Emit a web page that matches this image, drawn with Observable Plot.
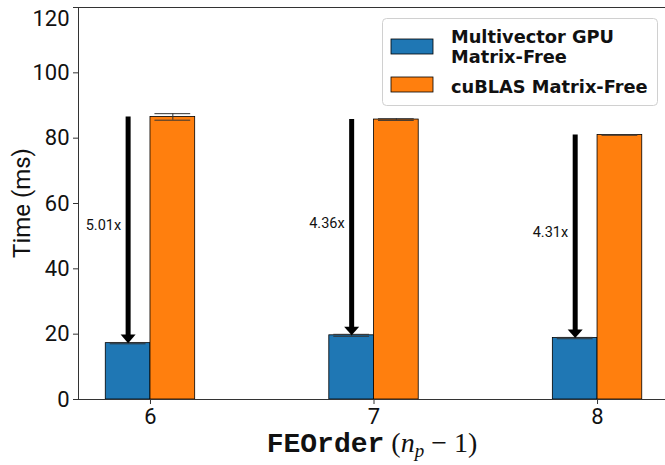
<!DOCTYPE html>
<html>
<head>
<meta charset="utf-8">
<script src="https://cdn.jsdelivr.net/npm/d3@7"></script>
<script src="https://cdn.jsdelivr.net/npm/@observablehq/plot@0.6"></script>
<style>
  html, body { margin: 0; padding: 0; background: #fff; }
  #chart svg { display: block; }
</style>
</head>
<body>
<div id="chart"></div>
<script>
// ---- data ----
const categories = [6, 7, 8];
const seriesNames = ["Multivector GPU", "cuBLAS Matrix-Free"];
const multivector = [17.25, 19.65, 18.8];
const multivectorErr = [0.2, 0.3, 0.2];
const cublas = [86.5, 85.7, 81.0];
const cublasErr = [1.0, 0.25, 0.1];
const speedupLabels = ["5.01x", "4.36x", "4.31x"];
const yTicks = [0, 20, 40, 60, 80, 100, 120];
const xTicks = [6, 7, 8];
const colors = ["#1f77b4", "#ff7f0e"];

// ---- derived tables ----
const barW = 0.2;
const bars = categories.flatMap((c, i) => [
  {c, s: 0, x1: c - barW, x2: c, xc: c - barW / 2, y: multivector[i], err: multivectorErr[i]},
  {c, s: 1, x1: c, x2: c + barW, xc: c + barW / 2, y: cublas[i], err: cublasErr[i]}
]);
const arrows = categories.map((c, i) => ({
  x: c - barW / 2, top: cublas[i], bottom: multivector[i],
  mid: (cublas[i] + multivector[i]) / 2, label: speedupLabels[i], tx: c - 0.29
}));

// custom downward triangle head (tip at the anchor point)
const downHead = {
  draw(ctx, size) {
    const r = Math.sqrt(size / Math.PI);
    const h = r * 1.15;
    ctx.moveTo(0, 0);
    ctx.lineTo(-r, -h);
    ctx.lineTo(r, -h);
    ctx.closePath();
  }
};

const xMin = 5.678, xMax = 8.304;
const font = "Roboto, 'DejaVu Sans', sans-serif";

const plot = Plot.plot({
  width: 665,
  height: 465,
  marginLeft: 78,
  marginRight: 0,
  marginTop: 7,
  marginBottom: 66,
  style: {fontFamily: font, background: "#fff"},
  x: {type: "linear", domain: [xMin, xMax], ticks: xTicks, tickFormat: d => String(d), label: null},
  y: {domain: [0, 120], ticks: yTicks, label: null},
  marks: [
    Plot.rectY(bars.filter(d => d.s === 0), {x1: "x1", x2: "x2", y: "y", fill: colors[0], stroke: "#000", strokeWidth: 0.8}),
    Plot.rectY(bars.filter(d => d.s === 1), {x1: "x1", x2: "x2", y: "y", fill: colors[1], stroke: "#000", strokeWidth: 0.8}),
    // error bars
    Plot.ruleX(bars, {x: "xc", y1: d => d.y - d.err, y2: d => d.y + d.err, stroke: "#333", strokeWidth: 1}),
    Plot.ruleY(bars, {y: d => d.y - d.err, x1: d => d.xc - 0.08, x2: d => d.xc + 0.08, stroke: "#333", strokeWidth: 1}),
    Plot.ruleY(bars, {y: d => d.y + d.err, x1: d => d.xc - 0.08, x2: d => d.xc + 0.08, stroke: "#333", strokeWidth: 1}),
    // speedup arrows
    Plot.ruleX(arrows, {x: "x", y1: "top", y2: d => d.bottom + 2, stroke: "#000", strokeWidth: 5}),
    Plot.dot(arrows, {x: "x", y: "bottom", symbol: downHead, r: 7.5, fill: "#000", stroke: null}),
    Plot.text(arrows, {x: "tx", y: "mid", text: "label", textAnchor: "start", dy: -4.5, fontSize: 14.5, fill: "#111"}),
    // spines
    Plot.ruleY([0, 120], {stroke: "#333", strokeWidth: 1}),
    Plot.ruleX([xMin], {stroke: "#333", strokeWidth: 1}),
    // axes
    Plot.axisY({ticks: yTicks, tickSize: 5, tickPadding: 4, fontSize: 22, stroke: "#333", label: null}),
    Plot.axisX({ticks: xTicks, tickSize: 5, tickPadding: 4, fontSize: 22, stroke: "#333", label: null, tickFormat: d => String(d)})
  ]
});

const svg = d3.select(plot);
svg.selectAll("g[aria-label='y-axis tick label'] text, g[aria-label='x-axis tick label'] text").attr("fill", "#111");
// keep the topmost y tick label inside the picture
svg.selectAll("g[aria-label='y-axis tick label'] text").filter(function() { return this.textContent === "120"; })
  .attr("dy", "0.5em");

// y-axis title
svg.append("text")
  .attr("transform", "translate(30,203) rotate(-90)")
  .attr("text-anchor", "middle")
  .attr("font-family", font)
  .attr("font-size", 24)
  .attr("fill", "#111")
  .text("Time (ms)");

// x-axis title: FEOrder (n_p − 1)
const serif = "'Liberation Serif', 'DejaVu Serif', serif";
const xt = svg.append("text")
  .attr("x", 372).attr("y", 452)
  .attr("text-anchor", "middle")
  .attr("fill", "#111");
xt.append("tspan").attr("font-family", "'Liberation Mono', 'DejaVu Sans Mono', monospace")
  .attr("font-weight", "bold").attr("font-size", 28).text("FEOrder");
xt.append("tspan").attr("font-family", serif).attr("font-size", 28).text(" (");
xt.append("tspan").attr("font-family", serif).attr("font-style", "italic").attr("font-size", 28).text("n");
xt.append("tspan").attr("font-family", serif).attr("font-style", "italic").attr("font-size", 19).attr("dy", 5).text("p");
xt.append("tspan").attr("font-family", serif).attr("font-size", 28).attr("dy", -5).text(" \u2212 1)");

// legend
const lg = svg.append("g").attr("text-anchor", "start");
lg.append("rect").attr("x", 382.5).attr("y", 18.5).attr("width", 275).attr("height", 87)
  .attr("rx", 4).attr("fill", "#fff").attr("fill-opacity", 0.85).attr("stroke", "#d0d0d0");
lg.append("rect").attr("x", 391).attr("y", 39).attr("width", 42).attr("height", 15)
  .attr("fill", colors[0]).attr("stroke", "#000").attr("stroke-width", 0.8);
lg.append("rect").attr("x", 391).attr("y", 77).attr("width", 42).attr("height", 15)
  .attr("fill", colors[1]).attr("stroke", "#000").attr("stroke-width", 0.8);
const lt = (y, s) => lg.append("text").attr("x", 451).attr("y", y)
  .attr("text-anchor", "start")
  .attr("font-family", "'DejaVu Sans', sans-serif").attr("font-weight", "bold").attr("font-size", 17.8)
  .attr("fill", "#111").text(s);
lt(43, seriesNames[0]);
lt(63, "Matrix-Free");
lt(93, seriesNames[1]);

document.getElementById("chart").appendChild(plot);
</script>
</body>
</html>
